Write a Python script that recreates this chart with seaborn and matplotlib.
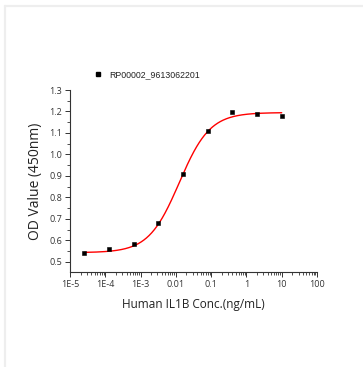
import numpy as np
import pandas as pd
import matplotlib
matplotlib.use("Agg")
import matplotlib.pyplot as plt
import seaborn as sns
from matplotlib.ticker import LogLocator, MultipleLocator, FixedLocator, FixedFormatter, NullFormatter
from matplotlib.lines import Line2D

# Data
conc = [0.0000256, 0.000128, 0.00064, 0.0032, 0.016, 0.08, 0.4, 2.0, 10.0]
od = [0.543, 0.559, 0.584, 0.680, 0.909, 1.111, 1.196, 1.189, 1.178]
series_name = "RP00002_9613062201"
xtick_vals = [1e-5, 1e-4, 1e-3, 1e-2, 1e-1, 1, 10, 100]
xtick_labels = ["1E-5", "1E-4", "1E-3", "0.01", "0.1", "1", "10", "100"]
ytick_vals = [0.5, 0.6, 0.7, 0.8, 0.9, 1.0, 1.1, 1.2, 1.3]
# 4PL fit parameters (bottom, top, EC50, hill)
fit_bottom, fit_top, fit_ec50, fit_hill = 0.543, 1.195, 0.0125, 1.0

sns.set_theme(style="white")
plt.rcParams["font.family"] = ["Liberation Sans", "DejaVu Sans"]

fig = plt.figure(figsize=(3.63, 3.67), dpi=100)
ax = fig.add_axes([70/363, 1-272/367, (317-70)/363, (272-90)/367])

df = pd.DataFrame({"conc": conc, "od": od})
xs = np.logspace(np.log10(min(conc)), np.log10(max(conc)), 300)
ys = fit_bottom + (fit_top - fit_bottom) * (xs/fit_ec50)**fit_hill / (1 + (xs/fit_ec50)**fit_hill)
sns.lineplot(x=xs, y=ys, ax=ax, color="red", lw=1.0, zorder=2)
sns.scatterplot(data=df, x="conc", y="od", ax=ax, marker="s", s=10, color="black",
                edgecolor="black", linewidth=0.4, zorder=3)

ax.set_xscale("log")
ax.set_xlim(1e-5, 100)
ax.set_ylim(0.453, 1.3)
ax.xaxis.set_major_locator(FixedLocator(xtick_vals))
ax.xaxis.set_major_formatter(FixedFormatter(xtick_labels))
ax.xaxis.set_minor_locator(LogLocator(base=10, subs=np.arange(2, 10), numticks=20))
ax.xaxis.set_minor_formatter(NullFormatter())
ax.yaxis.set_major_locator(FixedLocator(ytick_vals))
ax.yaxis.set_major_formatter(FixedFormatter([f"{v:.1f}" for v in ytick_vals]))
ax.yaxis.set_minor_locator(MultipleLocator(0.05))

for s in ["top", "right"]:
    ax.spines[s].set_visible(False)
for s in ["left", "bottom"]:
    ax.spines[s].set_color("#333333")
    ax.spines[s].set_linewidth(0.8)
ax.tick_params(which="major", direction="out", length=3.5, width=0.7, color="#333333",
               labelsize=6.5, labelcolor="#333333", bottom=True, left=True, pad=2)
ax.tick_params(which="minor", direction="out", length=2, width=0.6, color="#333333",
               bottom=True, left=True)
for lab in ax.get_xticklabels() + ax.get_yticklabels():
    lab.set_fontfamily(["Open Sans", "DejaVu Sans"])

ax.set_xlabel("Human IL1B Conc.(ng/mL)", fontsize=8.5, color="#222222",
              family=["Open Sans", "DejaVu Sans"], labelpad=7)
ax.set_ylabel("OD Value (450nm)", fontsize=10, color="#222222",
              family=["Open Sans", "DejaVu Sans"], labelpad=5)

handle = Line2D([], [], marker="s", color="black", linestyle="none", markersize=3)
leg = fig.legend([handle], [series_name], loc="center left",
                 bbox_to_anchor=(95/363, 1-75/367), frameon=False, fontsize=6.3,
                 handlelength=0.8, handletextpad=0.8, borderaxespad=0, borderpad=0)
for t in leg.get_texts():
    t.set_color("#222222")
    t.set_fontfamily(["Liberation Sans", "DejaVu Sans"])

# light figure frame
fig.add_artist(Line2D([5/363, 5/363], [0, 1-6/367], transform=fig.transFigure,
                      color="#eeeeee", lw=1.6))
fig.add_artist(Line2D([5/363, 1], [1-6/367, 1-6/367], transform=fig.transFigure,
                      color="#eeeeee", lw=1.6))

fig.savefig("out.png", dpi=100)
